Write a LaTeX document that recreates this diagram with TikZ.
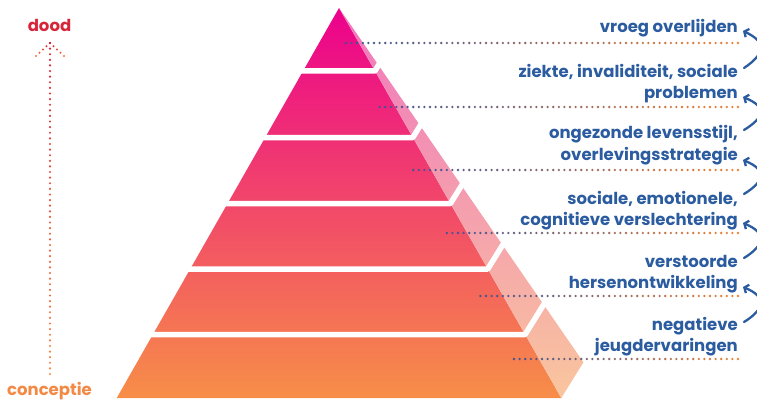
\documentclass[tikz,border=0pt]{standalone}
\usepackage{fontspec}
\setmainfont{Poppins}
\usetikzlibrary{arrows.meta,calc}

\definecolor{labelblue}{RGB}{44,92,160}
\definecolor{dotblue}{RGB}{58,84,152}
\definecolor{dotorange}{RGB}{241,128,48}
\definecolor{deathred}{RGB}{214,36,56}
\definecolor{birthorange}{RGB}{242,138,70}
\definecolor{frontA}{RGB}{236,0,140}
\definecolor{frontB}{RGB}{240,88,120}
\definecolor{frontC}{RGB}{247,142,72}
\definecolor{sideA}{RGB}{240,118,190}
\definecolor{sideB}{RGB}{247,172,182}
\definecolor{sideC}{RGB}{249,198,158}

\tikzset{
  outcome/.style={font=\bfseries\fontsize{16.5}{21}\selectfont, text=labelblue, align=right, anchor=base east, inner sep=0pt},
  endpoint/.style={font=\bfseries\fontsize{16.5}{18}\selectfont, anchor=base, inner sep=0pt},
  leadsto/.style={labelblue, line width=2.3pt, line cap=round, -{Straight Barb[length=3.5pt,width=9pt]}},
}

\begin{document}
\begin{tikzpicture}[x=1pt,y=-1pt]
  \useasboundingbox (0,0) rectangle (757,401);
  \clip (0,0) rectangle (757,401);

  \shade[top color=frontA, middle color=frontB, bottom color=frontC] (339,8) -- (116.7,398) -- (561.3,398) -- cycle;
  \shade[top color=sideA, middle color=sideB, bottom color=sideC] (339,8) -- (561.3,398) -- (583.4,362.3) -- cycle;
  \foreach \g in {71,137.5,203.5,269,334.5}{
    \pgfmathsetmacro\fx{339+0.57*(\g-8)}
    \pgfmathsetmacro\s{0.0916*(\g-8)*1.6}
    \draw[white, line width=5.5pt, line join=bevel] (100,\g) -- (\fx,\g) -- ++(0.62*\s,-\s);
  }

  \foreach \y/\xs in {43/343, 107/377, 170/410, 233/444, 296/477, 359/511}{
    \pgfmathsetmacro\n{int((738-\xs)/5.6)}
    \foreach \i in {0,...,\n}{
      \pgfmathsetmacro\t{int(100*\i/\n)}
      \fill[dotblue!\t!dotorange] ({738-\i*5.6},\y) circle (1.3pt);
    }
  }

  \node[outcome] (vroeg) at (738,33) {vroeg overlijden};
  \node[outcome] (ziekte) at (738,99) {ziekte, invaliditeit, sociale\\problemen};
  \node[outcome] (leefstijl) at (738,160) {ongezonde levensstijl,\\overlevingsstrategie};
  \node[outcome] (sociaal) at (738,225) {sociale, emotionele,\\cognitieve verslechtering};
  \node[outcome] (brein) at (738,288) {verstoorde\\hersenontwikkeling};
  \node[outcome] (jeugd) at (738,351) {negatieve\\jeugdervaringen};

  \coordinate (ziekte-r) at (744,68);
  \coordinate (vroeg-r) at (743,31);
  \coordinate (leefstijl-r) at (744,130);
  \coordinate (ziekte-l) at (743,97);
  \coordinate (sociaal-r) at (744,194);
  \coordinate (leefstijl-l) at (743,160);
  \coordinate (brein-r) at (744,258);
  \coordinate (sociaal-l) at (743,223);
  \coordinate (jeugd-r) at (744,322);
  \coordinate (brein-l) at (743,287);

  \draw[leadsto] (ziekte-r) .. controls +(21,-14) and +(24,11) .. (vroeg-r);
  \draw[leadsto] (leefstijl-r) .. controls +(21,-13) and +(24,10) .. (ziekte-l);
  \draw[leadsto] (sociaal-r) .. controls +(21,-13) and +(24,10) .. (leefstijl-l);
  \draw[leadsto] (brein-r) .. controls +(21,-13) and +(24,10) .. (sociaal-l);
  \draw[leadsto] (jeugd-r) .. controls +(21,-13) and +(24,10) .. (brein-l);

  \node[endpoint, text=deathred] (dood) at (49.5,32) {dood};
  \node[endpoint, text=birthorange] (conceptie) at (49.5,395) {conceptie};

  \coordinate (tip) at (50,43);
  \coordinate (tail) at (50,374);
  \foreach \i in {0,...,59}{
    \pgfmathsetmacro\t{int(100*\i/59)}
    \fill[deathred!\t!birthorange] ($(tail)!{\i/59}!(tip)$) circle (1.2pt);
  }
  \foreach \dx in {-14,14}{
    \foreach \i in {0,...,4}{
      \pgfmathsetmacro\t{int(100-20*\i)}
      \fill[deathred!\t!birthorange] ($(tip)+({\dx*\i/4},{13*\i/4})$) circle (1.2pt);
    }
  }
\end{tikzpicture}
\end{document}
